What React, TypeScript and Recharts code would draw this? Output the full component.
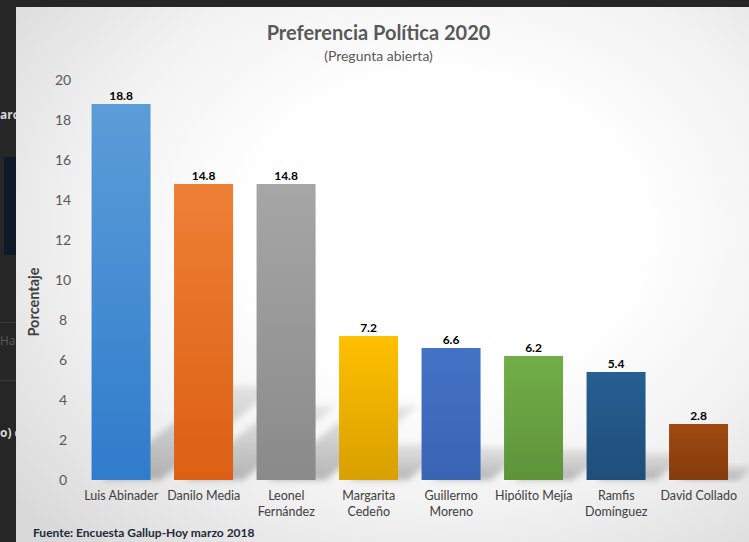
import React from "react"
import { Bar, BarChart, LabelList, XAxis, YAxis } from "recharts"

const candidates = [
  "Luis Abinader",
  "Danilo Media",
  "Leonel\nFernández",
  "Margarita\nCedeño",
  "Guillermo\nMoreno",
  "Hipólito Mejía",
  "Ramfis\nDomínguez",
  "David Collado",
]
const values = [18.8, 14.8, 14.8, 7.2, 6.6, 6.2, 5.4, 2.8]
const topColors = ["#5c9dd8", "#ee8035", "#a6a6a6", "#ffc000", "#4473c5", "#71ae48", "#265f92", "#a04a10"]
const bottomColors = ["#2f7ccb", "#dc5f14", "#8a8a8a", "#d8a000", "#3a64b4", "#5e933a", "#1f4e7a", "#843c0c"]
const yTicks = [0, 2, 4, 6, 8, 10, 12, 14, 16, 18, 20]

const data = candidates.map((name, i) => ({ name, value: values[i] }))

const font = "Lato, 'Open Sans', sans-serif"

function GradientBar(props: any) {
  const { x, y, width, height, index } = props
  const base = y + height
  const dy = height * 0.25
  const dx = dy / 0.8
  const off = 10
  const shadow = [
    [x + off, base],
    [x + width + off, base],
    [x + width + off + dx, base - dy],
    [x + off + dx, base - dy],
  ]
    .map((p) => p.join(","))
    .join(" ")
  return (
    <g>
      <defs>
        <linearGradient id={`bar-${index}`} x1="0" y1="0" x2="0" y2="1">
          <stop offset="0%" stopColor={topColors[index]} />
          <stop offset="100%" stopColor={bottomColors[index]} />
        </linearGradient>
        <linearGradient id={`sh-${index}`} x1="0" y1="1" x2="0" y2="0">
          <stop offset="0%" stopColor="#808080" stopOpacity={0.55} />
          <stop offset="100%" stopColor="#a0a0a0" stopOpacity={0.25} />
        </linearGradient>
        <filter id={`blur-${index}`} x="-20%" y="-20%" width="140%" height="140%">
          <feGaussianBlur stdDeviation="3" />
        </filter>
      </defs>
      <polygon points={shadow} fill={`url(#sh-${index})`} filter={`url(#blur-${index})`} />
      <rect x={x} y={y} width={width} height={height} fill={`url(#bar-${index})`} />
    </g>
  )
}

function CategoryTick(props: any) {
  const { x, y, payload } = props
  const lines = String(payload.value).split("\n")
  return (
    <text x={x} y={y} textAnchor="middle" fill="#404040" fontSize={12.5} fontFamily={font}>
      {lines.map((l, i) => (
        <tspan key={i} x={x} dy={i === 0 ? 12 : 16}>
          {l}
        </tspan>
      ))}
    </text>
  )
}

function ValueTick(props: any) {
  const { y, payload } = props
  return (
    <text x={63} y={y} dy={5} textAnchor="middle" fill="#595959" fontSize={14} fontFamily={font}>
      {payload.value}
    </text>
  )
}

export default function App() {
  return (
    <div style={{ position: "absolute", left: 0, top: 0, width: 749, height: 542, background: "#262626", overflow: "hidden" }}>
      {/* bits of the surrounding web page */}
      <div style={{ position: "absolute", left: 0, top: 106, color: "#d8d8d8", fontSize: 12, fontWeight: 700, fontFamily: "'Open Sans', sans-serif" }}>arc</div>
      <div style={{ position: "absolute", left: 4, top: 157, width: 14, height: 98, background: "#0e1a28" }} />
      <div style={{ position: "absolute", left: 0, top: 322, width: 16, height: 1, background: "#3a3a3a" }} />
      <div style={{ position: "absolute", left: 0, top: 332, color: "#5a5a5a", fontSize: 12, fontFamily: "'Open Sans', sans-serif" }}>Ha</div>
      <div style={{ position: "absolute", left: 0, top: 380, width: 16, height: 1, background: "#3a3a3a" }} />
      <div style={{ position: "absolute", left: 0, top: 424, color: "#d8d8d8", fontSize: 12, fontWeight: 700, fontFamily: "'Open Sans', sans-serif" }}>o) d</div>

      <div
        style={{
          position: "absolute",
          left: 16,
          top: 7,
          width: 733,
          height: 535,
          background: "radial-gradient(ellipse 75% 80% at 58% 42%, #ffffff 35%, #f2f2f2 65%, #d9d9d9 100%)",
        }}
      />

      <div style={{ position: "absolute", left: 0, top: 0, width: 749, height: 542 }}>
        <BarChart
          width={749}
          height={542}
          data={data}
          margin={{ top: 80, right: 9, bottom: 12, left: 0 }}
          barCategoryGap="14%"
        >
          <XAxis dataKey="name" axisLine={false} tickLine={false} height={50} interval={0} tick={<CategoryTick />} />
          <YAxis width={80} domain={[0, 20]} ticks={yTicks} axisLine={false} tickLine={false} tick={<ValueTick />} />
          <Bar dataKey="value" shape={<GradientBar />} isAnimationActive={false}>
            <LabelList
              dataKey="value"
              position="top"
              offset={4}
              style={{ fill: "#000", fontSize: 12, fontWeight: 700, fontFamily: font }}
            />
          </Bar>
        </BarChart>
      </div>

      <svg style={{ position: "absolute", left: 0, top: 0 }} width={60} height={542}>
        <text
          x={0}
          y={0}
          transform="translate(39,302) rotate(-90)"
          textAnchor="middle"
          fill="#404040"
          fontSize={14.5}
          fontWeight={700}
          fontFamily={font}
        >
          Porcentaje
        </text>
      </svg>

      <div style={{ position: "absolute", left: 0, width: 757, top: 20, textAlign: "center", fontFamily: font, color: "#595959", fontSize: 20, fontWeight: 700 }}>
        Preferencia Política 2020
      </div>
      <div style={{ position: "absolute", left: 0, width: 757, top: 47, textAlign: "center", fontFamily: font, color: "#595959", fontSize: 14 }}>
        (Pregunta abierta)
      </div>
      <div style={{ position: "absolute", left: 33, top: 525, fontFamily: font, color: "#1f2a38", fontSize: 12, fontWeight: 700 }}>
        Fuente: Encuesta Gallup-Hoy marzo 2018
      </div>
    </div>
  )
}
